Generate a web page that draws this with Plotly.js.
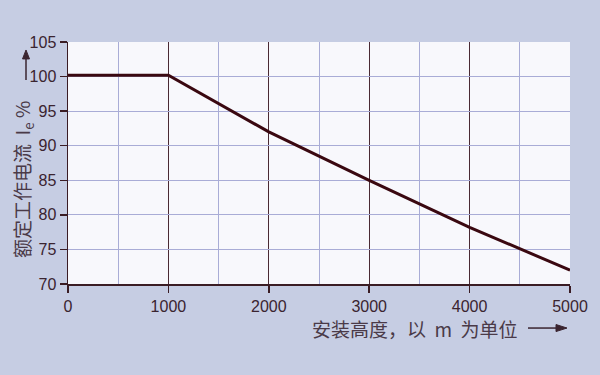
<!DOCTYPE html>
<html><head><meta charset="utf-8">
<script src="https://cdn.plot.ly/plotly-3.0.1.min.js"></script>
<style>html,body{margin:0;padding:0;background:#c6cde3;}</style>
</head><body>
<div id="chart" style="width:600px;height:375px;"></div>
<script>
const altitude = [0, 1000, 2000, 3000, 4000, 5000];
const current = [100.2, 100.2, 92, 85, 78.2, 72];
const xTicks = [0, 1000, 2000, 3000, 4000, 5000];
const yTicks = [70, 75, 80, 85, 90, 95, 100, 105];
const yTitle = '额定工作电流  I<sub>e</sub> %';
const xTitle = '安装高度，以  m  为单位';

const dark = '#3a1c24';
const gridBlue = '#a9acd6';
const font = {family: 'Liberation Sans, Arial, sans-serif', size: 16, color: '#3a2430'};
const titleFont = {family: 'Noto Sans CJK SC, sans-serif', size: 19, color: '#4a3a48'};
const arrowColor = '#3a2430';

const data = [{
  x: altitude, y: current, type: 'scatter', mode: 'lines',
  line: {color: '#3a0810', width: 3}, hoverinfo: 'skip'
}];
const layout = {
  width: 600, height: 375,
  margin: {l: 68, r: 30, t: 42, b: 91},
  paper_bgcolor: '#c6cde3', plot_bgcolor: '#f8f8fc',
  showlegend: false, font: font,
  xaxis: {
    range: [0, 5000], tickvals: xTicks, ticktext: xTicks.map(String),
    showgrid: true, gridcolor: '#4a2a34', gridwidth: 1,
    minor: {dtick: 500, tick0: 0, showgrid: true, gridcolor: gridBlue, gridwidth: 1, ticks: ''},
    showline: true, linecolor: dark, linewidth: 1.5,
    ticks: 'outside', ticklen: 7, tickcolor: dark, tickwidth: 1.5,
    zeroline: false, fixedrange: true, tickfont: font
  },
  yaxis: {
    range: [70, 105], tickvals: yTicks, ticktext: yTicks.map(String),
    showgrid: true, gridcolor: gridBlue, gridwidth: 1,
    showline: true, linecolor: dark, linewidth: 1.5,
    ticks: 'outside', ticklen: 7, tickcolor: dark, tickwidth: 1.5,
    zeroline: false, fixedrange: true, tickfont: font
  },
  shapes: [
    {type: 'line', xref: 'paper', yref: 'paper', xsizemode: 'pixel', xanchor: 0,
     x0: -42, x1: -42, y0: 0.843, y1: 0.94,
     line: {color: arrowColor, width: 1.5}},
    {type: 'path', xref: 'paper', yref: 'paper', xsizemode: 'pixel', xanchor: 0,
     path: 'M -45.5 0.93 L -42 0.967 L -38.5 0.93 Z',
     fillcolor: arrowColor, line: {color: arrowColor, width: 1}},
    {type: 'line', xref: 'paper', yref: 'paper', xsizemode: 'pixel', xanchor: 1,
     x0: -42, x1: -12, y0: -0.182, y1: -0.182,
     line: {color: arrowColor, width: 1.5}},
    {type: 'path', xref: 'paper', yref: 'paper', xsizemode: 'pixel', xanchor: 1,
     path: 'M -14 -0.1675 L -3 -0.182 L -14 -0.1965 Z',
     fillcolor: arrowColor, line: {color: arrowColor, width: 1}}
  ],
  annotations: [
    {text: yTitle, xref: 'paper', yref: 'paper', x: 0, y: 0.43, xshift: -45,
     textangle: -90, showarrow: false, xanchor: 'center', yanchor: 'middle',
     font: titleFont},
    {text: xTitle, xref: 'paper', yref: 'paper', x: 0, y: 0, yshift: -44, xshift: 347,
     showarrow: false, xanchor: 'center', yanchor: 'middle',
     font: titleFont}
  ]
};
Plotly.newPlot('chart', data, layout, {displayModeBar: false, staticPlot: true});
</script>
</body></html>
